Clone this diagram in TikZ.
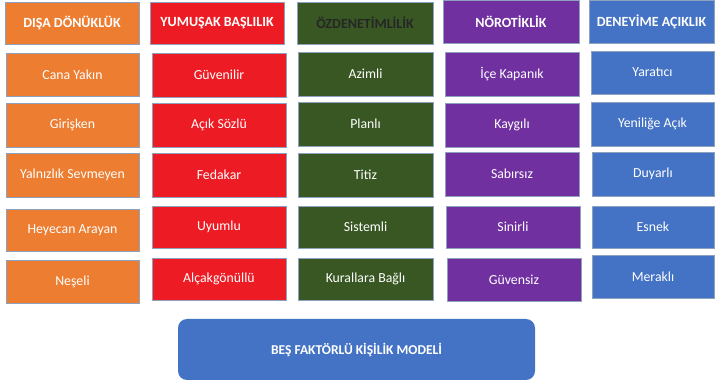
\documentclass[tikz,border=0pt]{standalone}
\usepackage{fontspec}
\setmainfont{Carlito}
\definecolor{corange}{HTML}{ED7D31}
\definecolor{cred}{HTML}{ED1C24}
\definecolor{cgreen}{HTML}{385723}
\definecolor{cpurple}{HTML}{7030A0}
\definecolor{cblue}{HTML}{4472C4}
\definecolor{cborder}{HTML}{8EA2C0}
\begin{document}
\begin{tikzpicture}[x=1pt,y=-1pt,
  box/.style={draw=cborder,line width=0.9pt,text=white,inner sep=0pt,font=\fontsize{13.8}{15}\selectfont},
  head/.style={box,font=\fontsize{14}{16}\selectfont\bfseries},
  ob/.style={fill=corange},
  rb/.style={fill=cred},
  gb/.style={fill=cgreen},
  pb/.style={fill=cpurple},
  bb/.style={fill=cblue}]
\useasboundingbox (0,0) rectangle (716,382);
\newcommand{\cell}[7]{\node[#6,minimum width={#4-#2},minimum height={#5-#3}] (#1) at ({(#2+#4)/2},{(#3+#5)/2}) {#7};}
% orange column
\cell{o0}{5}{2}{139}{44}{head,ob}{DIŞA DÖNÜKLÜK}
\cell{o1}{6}{53}{139}{96}{box,ob}{Cana Yakın}
\cell{o2}{6}{103}{139}{147}{box,ob}{Girişken}
\cell{o3}{6}{153}{139}{197}{box,ob}{Yalnızlık Sevmeyen}
\cell{o4}{6}{209}{139}{251}{box,ob}{Heyecan Arayan}
\cell{o5}{6}{260}{139}{303}{box,ob}{Neşeli}
% red column
\cell{r0}{150}{2}{284}{44}{head,rb}{YUMUŞAK BAŞLILIK}
\cell{r1}{152}{53}{286}{97}{box,rb}{Güvenilir}
\cell{r2}{152}{103}{286}{147}{box,rb}{Açık Sözlü}
\cell{r3}{152}{153}{286}{197}{box,rb}{Fedakar}
\cell{r4}{152}{206}{286}{248}{box,rb}{Uyumlu}
\cell{r5}{152}{258}{286}{300}{box,rb}{Alçakgönüllü}
% green column
\cell{g0}{297}{2}{433}{44}{head,gb,text=black!85}{ÖZDENETİMLİLİK}
\cell{g1}{298}{52}{433}{96}{box,gb}{Azimli}
\cell{g2}{298}{102}{433}{146}{box,gb}{Planlı}
\cell{g3}{298}{153}{433}{197}{box,gb}{Titiz}
\cell{g4}{298}{206}{433}{248}{box,gb}{Sistemli}
\cell{g5}{298}{258}{433}{300}{box,gb}{Kurallara Bağlı}
% purple column
\cell{p0}{443}{0}{579}{43}{head,pb}{NÖROTİKLİK}
\cell{p1}{445}{52}{579}{96}{box,pb}{İçe Kapanık}
\cell{p2}{445}{103}{579}{147}{box,pb}{Kaygılı}
\cell{p3}{445}{152}{579}{196}{box,pb}{Sabırsız}
\cell{p4}{446}{206}{580}{248}{box,pb}{Sinirli}
\cell{p5}{447}{258}{581}{301}{box,pb}{Güvensiz}
% blue column
\cell{b0}{589}{0}{714}{43}{head,bb}{DENEYİME AÇIKLIK}
\cell{b1}{591}{51}{714}{94}{box,bb}{Yaratıcı}
\cell{b2}{591}{102}{714}{146}{box,bb}{Yeniliğe Açık}
\cell{b3}{592}{152}{714}{196}{box,bb}{Duyarlı}
\cell{b4}{592}{206}{714}{248}{box,bb}{Esnek}
\cell{b5}{592}{255}{714}{298}{box,bb}{Meraklı}
% bottom
\node[fill=cblue,rounded corners=9pt,text=white,inner sep=0pt,minimum width=357,minimum height=61,font=\fontsize{13.5}{15}\selectfont\bfseries] (m) at (356.5,349.5) {BEŞ FAKTÖRLÜ KİŞİLİK MODELİ};
\end{tikzpicture}
\end{document}
